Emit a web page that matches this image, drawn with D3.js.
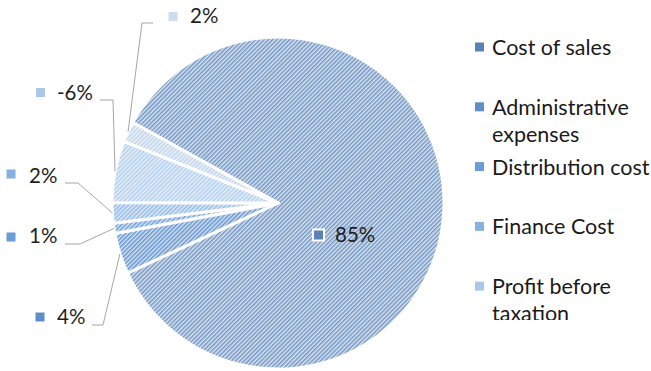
<!DOCTYPE html>
<html>
<head>
<meta charset="utf-8">
<script src="https://cdn.jsdelivr.net/npm/d3@7"></script>
<style>
  html, body { margin: 0; padding: 0; background: #ffffff; }
  svg { display: block; font-family: Lato, "Open Sans", sans-serif; }
</style>
</head>
<body>
<svg id="chart" width="651" height="371"></svg>
<script>
// Cost breakdown shares (percent of total)
const categories = ["Cost of sales", "Administrative expenses", "Distribution cost",
                    "Finance Cost", "Profit before taxation", "Taxation"];
const shares = [85, 4, 1, 2, -6, 2];
const legendLabels = ["Cost of sales", "Administrative\nexpenses", "Distribution cost",
                      "Finance Cost", "Profit before\ntaxation", "Taxation"];
// stripe colour / background colour of each hatched fill
const stripeColors = ["#7596c2", "#6795cd", "#6e9fd7", "#93b9e4", "#b0cdee", "#bfd3ea"];
const groundColors = ["#d7e4f2", "#d3e2f4", "#d6e6f6", "#dfebf8", "#e9f1fa", "#edf3f9"];

const width = 651, height = 371;
const cx = 278, cy = 203, radius = 166;
const firstSliceDeg = 299;

const svg = d3.select("#chart");
const defs = svg.append("defs");

// diagonal hatch patterns
categories.forEach((c, i) => {
  const p = defs.append("pattern")
    .attr("id", "hatch" + i)
    .attr("patternUnits", "userSpaceOnUse")
    .attr("width", 3).attr("height", 3)
    .attr("patternTransform", "rotate(45)");
  p.append("rect").attr("width", 3).attr("height", 3).attr("fill", groundColors[i]);
  p.append("rect").attr("width", 1.5).attr("height", 3).attr("fill", stripeColors[i]);
});

const color = d3.scaleOrdinal().domain(categories)
  .range(categories.map((c, i) => `url(#hatch${i})`));
// small keys read as nearly solid
const keyColor = d3.scaleOrdinal().domain(categories)
  .range(["#5a82b4", "#5f8fcb", "#6a9dd6", "#86b2e2", "#a9c8ec", "#cddcee"]);

const data = categories.map((c, i) => ({ name: c, value: shares[i] }));

const start = firstSliceDeg * Math.PI / 180;
const pie = d3.pie().sort(null).value(d => Math.abs(d.value))
  .startAngle(start).endAngle(start + 2 * Math.PI);
const arcs = pie(data);
const arc = d3.arc().innerRadius(0).outerRadius(radius);
const edgeArc = d3.arc().innerRadius(radius).outerRadius(radius);

const g = svg.append("g").attr("transform", `translate(${cx},${cy})`);
g.selectAll("path.slice").data(arcs).enter().append("path")
  .attr("class", "slice")
  .attr("d", arc)
  .attr("fill", d => color(d.data.name))
  .attr("stroke", "#ffffff")
  .attr("stroke-width", 3)
  .attr("stroke-linejoin", "round");

// data label placement: marker centre, text start, baseline, leader elbow (null = inside)
const labelLayout = [
  { mx: 318.5, my: 235, tx: 335, ty: 242, lead: null },
  { mx: 40, my: 317, tx: 57, ty: 324, lead: [[92, 325], [103, 325]] },
  { mx: 11, my: 237, tx: 29, ty: 243, lead: [[65, 244], [80, 244]] },
  { mx: 11, my: 174, tx: 29, ty: 183, lead: [[65, 183], [78, 183]] },
  { mx: 40.5, my: 92.5, tx: 57, ty: 100, lead: [[100, 100], [113, 100]] },
  { mx: 173, my: 16.5, tx: 190, ty: 23, lead: [[153, 23], [142, 23]] }
];

const fmt = v => v + "%";
const line = d3.line();

arcs.forEach((a, i) => {
  const L = labelLayout[i];
  if (L.lead) {
    const c = edgeArc.centroid(a);
    const end = [cx + c[0], cy + c[1]];
    svg.append("path")
      .attr("d", line([L.lead[0], L.lead[1], end]))
      .attr("fill", "none")
      .attr("stroke", "#a6a6a6")
      .attr("stroke-width", 1);
  } else {
    svg.append("rect")
      .attr("x", L.mx - 6.5).attr("y", L.my - 6.5)
      .attr("width", 13).attr("height", 13)
      .attr("fill", "#ffffff");
  }
  svg.append("rect")
    .attr("x", L.mx - 4.5).attr("y", L.my - 4.5)
    .attr("width", 9).attr("height", 9)
    .attr("fill", keyColor(a.data.name));
  svg.append("text")
    .attr("x", L.tx).attr("y", L.ty)
    .attr("font-size", 20.5)
    .attr("fill", "#1f1f1f")
    .text(fmt(a.data.value));
});

// legend, clipped to the plot frame
defs.append("clipPath").attr("id", "legendClip")
  .append("rect").attr("x", 460).attr("y", 0).attr("width", 191).attr("height", 320);

const legend = svg.append("g").attr("clip-path", "url(#legendClip)");
const legendY = d3.scaleLinear().domain([0, 1]).range([55, 114.8]);
categories.forEach((c, i) => {
  const y = legendY(i);
  const item = legend.append("g");
  item.append("rect")
    .attr("x", 475).attr("y", y - 12.5)
    .attr("width", 9).attr("height", 9)
    .attr("fill", keyColor(c));
  const t = item.append("text")
    .attr("x", 492).attr("y", y)
    .attr("font-size", 21.5)
    .attr("fill", "#1a1a1a");
  legendLabels[i].split("\n").forEach((ln, k) => {
    t.append("tspan").attr("x", 492).attr("dy", k === 0 ? 0 : 27).text(ln);
  });
});
</script>
</body>
</html>
